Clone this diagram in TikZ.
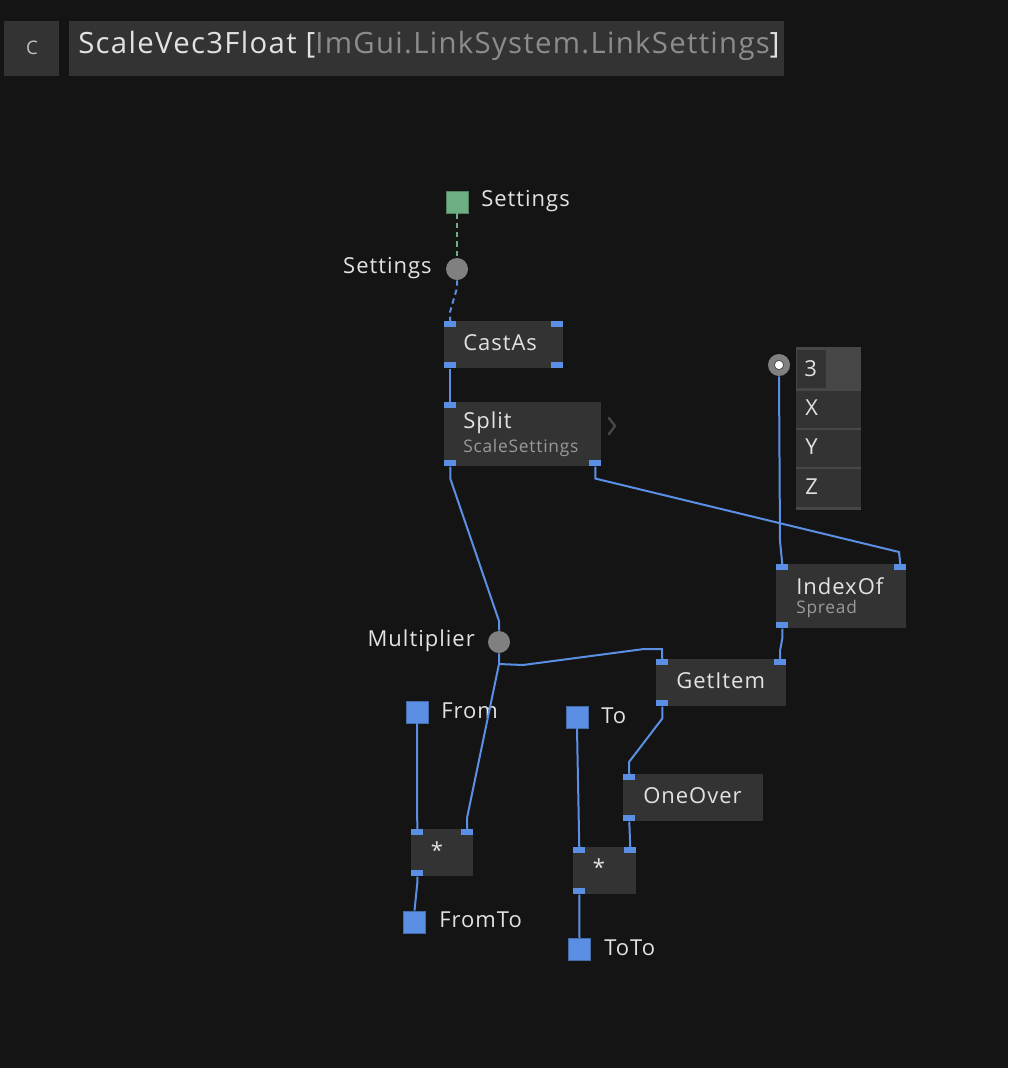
\documentclass[tikz,border=0pt]{standalone}
\usepackage{fontspec}
\setmainfont[LetterSpace=4.5]{Open Sans}
\definecolor{bg}{HTML}{141414}
\definecolor{nodefill}{HTML}{333333}
\definecolor{linkblue}{HTML}{5B8FE3}
\definecolor{pingreen}{HTML}{6DAE82}
\definecolor{circgray}{HTML}{808080}
\definecolor{txt}{HTML}{E2E2E2}
\definecolor{subtxt}{HTML}{9A9A9A}
\definecolor{titlegray}{HTML}{8C8C8C}
\definecolor{sepgray}{HTML}{474747}
\newcommand{\mainsz}{\fontsize{16.5}{19}\selectfont}
\newcommand{\subsz}{\fontsize{13}{15}\selectfont}
\begin{document}
\begin{tikzpicture}[x=0.75pt,y=-0.75pt,
  port/.style={rectangle, fill=linkblue, minimum width=9pt, minimum height=4.5pt, inner sep=0, anchor=north west},
  pinsq/.style={rectangle, fill=linkblue, draw=linkblue!75!black, line width=0.6pt, minimum size=16.5pt, inner sep=0},
  opbox/.style={rectangle, fill=nodefill, inner sep=0, anchor=north west},
  pad/.style={circle, fill=circgray, minimum size=16.5pt, inner sep=0},
  lbl/.style={text=txt, font=\mainsz, inner sep=0},
  sublbl/.style={text=subtxt, font=\subsz, inner sep=0},
  link/.style={draw=linkblue, line width=1.5pt},
  glink/.style={draw=pingreen, line width=1.5pt, dashed, dash pattern=on 4pt off 3pt}
]
% background
\fill[bg] (0,0) rectangle (1008,1068);
\useasboundingbox (0,0) rectangle (1008,1068);

% header
\node[opbox, minimum width=41.25pt, minimum height=41.25pt] (cbox) at (4,21) {};
\node[text=txt!85!black, font=\fontsize{14}{16}\selectfont, inner sep=0] (clbl) at (32,48) {C};
\node[opbox, minimum width=536.25pt, minimum height=41.25pt] (titlebox) at (69,21) {};
\node[anchor=west, inner sep=0, font=\fontsize{22}{26}\selectfont] (title) at (78,46)
  {\textcolor{txt}{ScaleVec3Float [}\textcolor{titlegray}{ImGui.LinkSystem.LinkSettings}\textcolor{txt}{]}};

% Settings input
\node[pinsq, fill=pingreen, draw=pingreen!75!black] (setin) at (457,202) {};
\node[lbl, anchor=west] (setinlbl) at (481,201) {Settings};
\node[pad] (setpad) at (457,269) {};
\node[lbl, anchor=east] (setpadlbl) at (432,268) {Settings};

% CastAs
\node[opbox, minimum width=89.25pt, minimum height=35.25pt] (castas) at (444,321) {};
\node[lbl, anchor=west] (castaslbl) at (463,343) {CastAs};
\node[port] (casttl) at (444,321) {};
\node[port] (casttr) at (551,321) {};
\node[port] (castbl) at (444,362) {};
\node[port] (castbr) at (551,362) {};

% Split
\node[opbox, minimum width=117.75pt, minimum height=48pt] (split) at (444,402) {};
\node[lbl, anchor=west] (splitlbl) at (463,423) {Split};
\node[sublbl, anchor=west] (splitsub) at (463,448) {ScaleSettings};
\node[port] (splittl) at (444,402) {};
\node[port] (splitbl) at (444,460) {};
\node[port] (splitbr) at (589,460) {};
\draw[sepgray, line width=1.8pt, line cap=round, line join=round] (609,418) -- (615,426) -- (609,434);

% Spread box
\fill[sepgray] (796,347) rectangle (861,510);
\fill[nodefill] (797,350) rectangle (826,388);
\fill[nodefill] (796,391) rectangle (861,428);
\fill[nodefill] (796,430) rectangle (861,467);
\fill[nodefill] (796,469) rectangle (861,507);
\node[lbl, anchor=west] (s3) at (804,369) {3};
\node[lbl, anchor=west] (sx) at (805,408) {X};
\node[lbl, anchor=west] (sy) at (805,447) {Y};
\node[lbl, anchor=west] (sz) at (805,487) {Z};
\node[pad] (threepad) at (779,365) {};
\node[circle, fill=white, draw=black!70, line width=0.6pt, minimum size=7pt, inner sep=0] (threedot) at (threepad.center) {};

% IndexOf
\node[opbox, minimum width=97.5pt, minimum height=48pt] (indexof) at (776,564) {};
\node[lbl, anchor=west] (indexoflbl) at (796,586) {IndexOf};
\node[sublbl, anchor=west] (indexofsub) at (796,609) {Spread};
\node[port] (idxtl) at (776,564) {};
\node[port] (idxtr) at (894,564) {};
\node[port] (idxbl) at (776,622) {};

% Multiplier
\node[pad] (multpad) at (499,642) {};
\node[lbl, anchor=east] (multlbl) at (475,641) {Multiplier};

% GetItem
\node[opbox, minimum width=97.5pt, minimum height=35.25pt] (getitem) at (656,659) {};
\node[lbl, anchor=west] (getitemlbl) at (676,681) {GetItem};
\node[port] (gettl) at (656,659) {};
\node[port] (gettr) at (774,659) {};
\node[port] (getbl) at (656,700) {};

% From / To
\node[pinsq] (from) at (417,712) {};
\node[lbl, anchor=west] (fromlbl) at (441,711) {From};
\node[pinsq] (to) at (577,717) {};
\node[lbl, anchor=west] (tolbl) at (601,716) {To};

% OneOver
\node[opbox, minimum width=105pt, minimum height=35.25pt] (oneover) at (623,774) {};
\node[lbl, anchor=west] (oneoverlbl) at (643,796) {OneOver};
\node[port] (onetl) at (623,774) {};
\node[port] (onebl) at (623,815) {};

% Multiply 1
\node[opbox, minimum width=46.5pt, minimum height=35.25pt] (mulone) at (411,829) {};
\node[lbl, anchor=base] (mulonelbl) at (437,858) {*};
\node[port] (m1tl) at (411,829) {};
\node[port] (m1tr) at (461,829) {};
\node[port] (m1bl) at (411,870) {};

% Multiply 2
\node[opbox, minimum width=47.25pt, minimum height=35.25pt] (multwo) at (573,847) {};
\node[lbl, anchor=base] (multwolbl) at (599,875) {*};
\node[port] (m2tl) at (573,847) {};
\node[port] (m2tr) at (624,847) {};
\node[port] (m2bl) at (573,888) {};

% outputs
\node[pinsq] (fromto) at (414.5,922) {};
\node[lbl, anchor=west] (fromtolbl) at (439,920) {FromTo};
\node[pinsq] (toto) at (579.5,949.5) {};
\node[lbl, anchor=west] (totolbl) at (604,948) {ToTo};

% links
\draw[glink] (setin.south) -- (setpad.north);
\draw[link, dashed, dash pattern=on 4pt off 3pt] (setpad.south) -- (457,288) -- (450,312) -- (casttl.north);
\draw[link] (castbl.south) -- (splittl.north);
\draw[link] (splitbr.south) -- ++(0,12) -- (899,552) -- (idxtr.north);
\draw[link] (threepad.south) -- (780,541) -- (idxtl.north);
\draw[link] (idxbl.south) -- ++(0,10) -- (780,651) -- (gettr.north);
\draw[link] (splitbl.south) -- ++(0,12) -- (499,621) -- (multpad.north);
\coordinate (mjoin) at (499,664);
\draw[link] (multpad.south) -- (mjoin) -- (523,665) -- (644,649) -- (662,649) -- (gettl.north);
\draw[link] (mjoin) -- (467,818) -- (m1tr.north);
\draw[link] (getbl.south) -- ++(0,12) -- (629,762) -- (onetl.north);
\draw[link] (onebl.south) -- (m2tr.north);
\draw[link] (from.south) -- (m1tl.north);
\draw[link] (m1bl.south) -- ++(0,7) -- (fromto.north);
\draw[link] (to.south) -- (m2tl.north);
\draw[link] (m2bl.south) -- (toto.north);
\end{tikzpicture}
\end{document}
